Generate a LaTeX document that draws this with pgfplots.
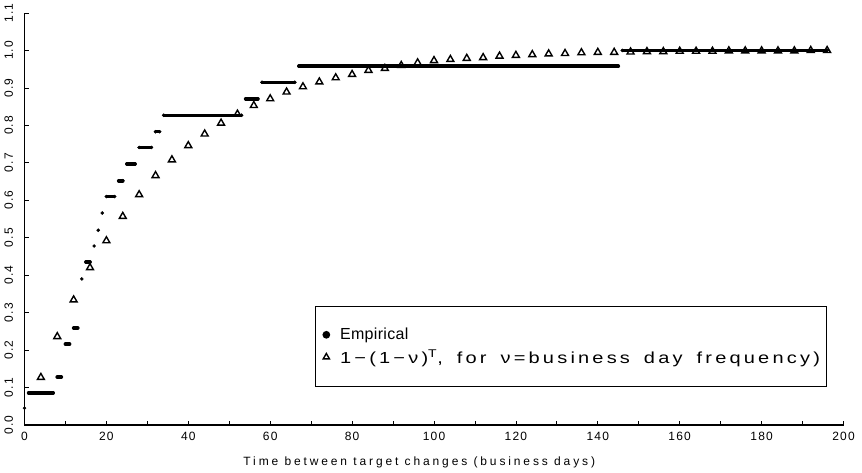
\documentclass[border=0pt]{standalone}
\usepackage{fontspec}
\setmainfont{Liberation Sans}[LetterSpace=10]
\newfontfamily\legfontA{Liberation Sans}[LetterSpace=2]
\newfontfamily\legfontB{Liberation Sans}[FakeStretch=1.25, LetterSpace=20, WordSpace=1.6]
\newfontfamily\labfont{Liberation Sans}[LetterSpace=24]
\usepackage{pgfplots}
\pgfplotsset{compat=1.18}
\pgfplotstableread{
T v
0 0.045
nan nan
1 0.086
7 0.086
nan nan
8 0.128
9 0.128
nan nan
10 0.216
11 0.216
nan nan
12 0.259
13 0.259
nan nan
14 0.390
nan nan
15 0.435
16 0.435
nan nan
17 0.478
nan nan
18 0.520
nan nan
19 0.566
nan nan
20 0.610
22 0.610
nan nan
23 0.652
24 0.652
nan nan
25 0.697
27 0.697
nan nan
28 0.741
31 0.741
nan nan
32 0.783
33 0.783
nan nan
34 0.827
53 0.827
nan nan
54 0.871
57 0.871
nan nan
58 0.915
66 0.915
nan nan
67 0.958
145 0.958
nan nan
146 1.000
196 1.000
}\empirical
\pgfplotstableread{
T v
4 0.127
8 0.236
12 0.334
16 0.420
20 0.492
24 0.557
28 0.615
32 0.666
36 0.708
40 0.746
44 0.777
48 0.806
52 0.830
56 0.853
60 0.871
64 0.889
68 0.903
72 0.916
76 0.927
80 0.936
84 0.947
88 0.952
92 0.960
96 0.967
100 0.973
104 0.976
108 0.979
112 0.981
116 0.985
120 0.987
124 0.989
128 0.991
132 0.992
136 0.994
140 0.995
144 0.995
148 0.996
152 0.997
156 0.997
160 0.998
164 0.998
168 0.998
172 0.999
176 0.999
180 0.999
184 0.999
188 0.999
192 1.000
196 1.000
}\geometric
\begin{document}
\begin{tikzpicture}
\begin{axis}[
  scale only axis, width=819pt, height=412pt,
  xmin=0, xmax=200, ymin=0, ymax=1.1,
  axis x line=bottom, axis y line=left,
  axis line style={-, line width=1.3pt},
  xtick={0,20,40,60,80,100,120,140,160,180,200},
  minor xtick={10,30,50,70,90,110,130,150,170,190},
  ytick={0,0.1,0.2,0.3,0.4,0.5,0.6,0.7,0.8,0.9,1.0,1.1},
  tick align=inside, major tick length=4pt, minor tick length=4pt,
  every tick/.style={black, line width=0.8pt},
  /pgf/number format/assume math mode=true,
  ticklabel style={font=\fontsize{12}{14}\selectfont},
  yticklabel style={rotate=90, anchor=south, /pgf/number format/.cd, fixed, fixed zerofill, precision=1},
  yticklabel shift=8pt,
  xticklabel shift=4pt,
  xlabel={Time between target changes (business days)},
  xlabel style={font=\labfont\fontsize{12}{14}\selectfont, at={(axis description cs:0.482,0)}, anchor=center, yshift=-37pt},
  clip=false,
  reverse legend,
  legend cell align=left,
  legend style={at={(axis cs:71,0.318)}, anchor=north west, draw=black, line width=0.7pt,
    inner xsep=4pt, inner ysep=20pt, row sep=4pt, font=\fontsize{16}{18}\selectfont},
]
\addplot[only marks, mark=triangle, mark size=4pt, mark options={black, line width=1.4pt},
  legend image code/.code={\draw[black, line width=0.7pt] plot[only marks, mark=triangle, mark size=3.6pt] coordinates {(0pt,0pt)}; \path (-5pt,0pt) (8pt,0pt);}]
  table[x=T, y=v] {\geometric};
\addlegendentry{\legfontB 1−(1−ν)\textsuperscript{T}, for ν=business day frequency)\hspace{10pt}}
\addplot[black, line width=3.5pt, line cap=round, mark=*, mark size=1.55pt, mark options={line width=0.4pt},
  unbounded coords=jump,
  legend image code/.code={\fill[black] (0pt,0pt) circle (2pt); \path (-5pt,0pt) (10pt,0pt);}]
  table[x=T, y=v] {\empirical};
\addlegendentry{\legfontA Empirical}
\path ([shift={(-24.5pt,-47pt)}]rel axis cs:0,0) rectangle ([shift={(18.5pt,13pt)}]rel axis cs:1,1);
\end{axis}
\end{tikzpicture}
\end{document}
